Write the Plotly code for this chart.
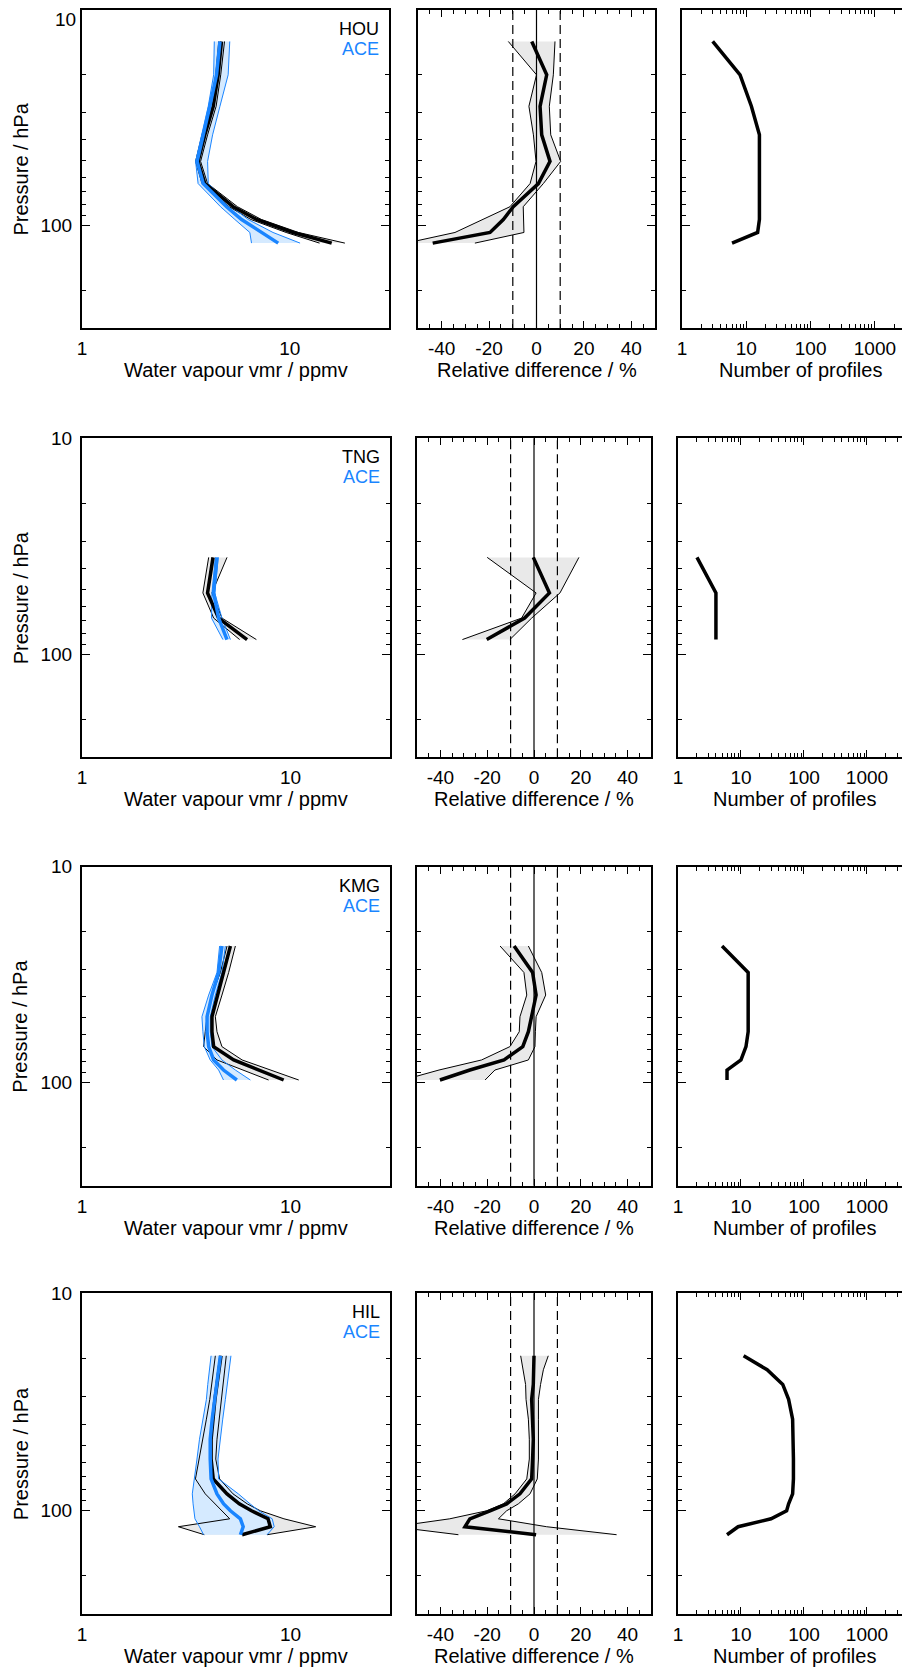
import numpy as np
import plotly.graph_objects as go

STATIONS = ["HOU", "TNG", "KMG", "HIL"]

# ---- HOU -------------------------------------------------------------
HOU_P = [14, 20, 28, 38, 50.5, 64, 82, 94, 108, 121]
HOU_MEAN = [4.69, 4.52, 4.28, 3.90, 3.62, 3.90, 5.34, 6.92, 10.37, 15.9]
HOU_LO = [4.55, 4.40, 4.15, 3.78, 3.52, 3.78, 5.10, 6.50, 9.60, 13.9]
HOU_HI = [4.85, 4.65, 4.42, 4.02, 3.72, 4.02, 5.60, 7.30, 11.0, 18.4]
ACE_HOU_MEAN = [4.61, 4.44, 4.12, 3.83, 3.58, 3.83, 4.96, 5.86, 7.31, 8.79]
ACE_HOU_LO = [4.33, 4.30, 4.05, 3.75, 3.52, 3.62, 4.64, 5.44, 6.42, 6.54]
ACE_HOU_HI = [5.14, 5.05, 4.61, 4.25, 4.02, 4.05, 5.25, 6.30, 8.30, 11.2]
DIFF_HOU_MEAN = [-2.0, 4.3, 1.5, 2.2, 5.7, 0.8, -9.8, -14.0, -19.6, -43.8]
DIFF_HOU_LO = [-11.9, 0.0, -3.2, -1.3, -0.2, -2.7, -11.2, -22.4, -34.4, -55.0]
DIFF_HOU_HI = [7.8, 7.1, 5.4, 6.0, 10.2, 2.9, -5.6, -5.6, -5.3, -26.0]
N_HOU = [3, 8, 12, 16, 16, 16, 16, 16, 15, 6]

# ---- TNG -------------------------------------------------------------
TNG_P = [35.6, 52, 68, 85.5]
TNG_MEAN = [4.25, 4.00, 4.52, 6.19]
TNG_LO = [4.05, 3.80, 4.28, 5.70]
TNG_HI = [4.96, 4.20, 4.69, 6.86]
ACE_TNG_MEAN = [4.44, 4.28, 4.52, 4.96]
ACE_TNG_LO = [4.36, 4.20, 4.18, 4.74]
ACE_TNG_HI = [4.50, 4.33, 4.69, 5.15]
DIFF_TNG_MEAN = [-0.3, 6.6, -4.0, -20.2]
DIFF_TNG_LO = [-20.0, 0.9, -5.3, -30.6]
DIFF_TNG_HI = [19.2, 11.1, -1.0, -10.3]
N_TNG = [2, 4, 4, 4]

# ---- KMG -------------------------------------------------------------
KMG_P = [23.3, 30.9, 39.3, 49.5, 58.1, 68.1, 78.5, 87.4, 97.2]
KMG_MEAN = [5.15, 4.77, 4.44, 4.20, 4.20, 4.28, 5.34, 7.00, 9.27]
KMG_LO = [4.96, 4.61, 4.20, 3.98, 3.90, 3.83, 4.44, 5.95, 7.85]
KMG_HI = [5.44, 5.05, 4.69, 4.36, 4.44, 4.69, 5.86, 8.00, 10.95]
ACE_KMG_MEAN = [4.69, 4.52, 4.20, 3.98, 3.98, 4.05, 4.28, 4.77, 5.53]
ACE_KMG_LO = [4.57, 4.44, 4.05, 3.76, 3.80, 3.86, 4.12, 4.52, 4.77]
ACE_KMG_HI = [4.87, 4.69, 4.36, 4.12, 4.12, 4.20, 4.69, 5.44, 6.42]
DIFF_KMG_MEAN = [-8.5, -0.6, 0.9, -1.0, -2.4, -4.8, -12.8, -27.4, -40.2]
DIFF_KMG_LO = [-14.5, -4.3, -3.1, -6.0, -6.3, -10.3, -22.4, -40.6, -56.0]
DIFF_KMG_HI = [-2.4, 3.3, 5.0, 0.9, 0.6, 0.4, -2.4, -16.7, -20.9]
N_KMG = [5, 13, 13, 13, 13, 12, 10, 6, 6]

# ---- HIL -------------------------------------------------------------
HIL_P = [19.4, 22.5, 26.3, 30.8, 38.0, 47.0, 58.0, 71.6, 83.9, 93.3, 100.4, 109.3, 118.9, 129.4]
HIL_MEAN = [4.64, 4.56, 4.44, 4.34, 4.24, 4.16, 4.16, 4.26, 4.96, 5.68, 6.50, 7.80, 8.00, 5.86]
HIL_LO = [4.36, 4.28, 4.19, 4.10, 3.95, 3.80, 3.65, 3.50, 3.90, 4.36, 4.69, 5.11, 2.90, 3.86]
HIL_HI = [4.92, 4.84, 4.75, 4.64, 4.54, 4.44, 4.38, 4.57, 5.30, 6.20, 7.17, 9.30, 13.2, 7.72]
ACE_HIL_MEAN = [4.61, 4.52, 4.40, 4.31, 4.21, 4.12, 4.12, 4.16, 4.44, 4.78, 5.15, 5.75, 5.93, 5.75]
ACE_HIL_LO = [4.16, 4.08, 4.01, 3.95, 3.80, 3.66, 3.56, 3.46, 3.38, 3.41, 3.43, 3.48, 3.66, 3.83]
ACE_HIL_HI = [5.18, 5.09, 4.98, 4.87, 4.73, 4.61, 4.49, 4.52, 5.62, 6.40, 7.04, 8.17, 8.35, 7.72]
DIFF_HIL_MEAN = [0.0, 0.0, -0.3, -1.0, -0.6, -0.3, -0.6, -1.0, -6.0, -11.7, -18.8, -27.4, -29.5, 0.9]
DIFF_HIL_LO = [-5.7, -4.6, -3.6, -3.4, -2.4, -2.0, -2.0, -3.1, -8.1, -13.1, -20.2, -36.0, -60.0, -32.3]
DIFF_HIL_HI = [6.1, 4.0, 2.8, 1.9, 1.9, 1.9, 1.9, 1.4, -1.7, -6.7, -11.7, -15.2, 5.4, 35.3]
N_HIL = [11, 26, 46, 57, 66, 68, 68, 68, 66, 57, 53, 30, 9, 6]

DATA = {
    "HOU": (HOU_P, HOU_MEAN, HOU_LO, HOU_HI, ACE_HOU_MEAN, ACE_HOU_LO, ACE_HOU_HI,
            DIFF_HOU_MEAN, DIFF_HOU_LO, DIFF_HOU_HI, N_HOU),
    "TNG": (TNG_P, TNG_MEAN, TNG_LO, TNG_HI, ACE_TNG_MEAN, ACE_TNG_LO, ACE_TNG_HI,
            DIFF_TNG_MEAN, DIFF_TNG_LO, DIFF_TNG_HI, N_TNG),
    "KMG": (KMG_P, KMG_MEAN, KMG_LO, KMG_HI, ACE_KMG_MEAN, ACE_KMG_LO, ACE_KMG_HI,
            DIFF_KMG_MEAN, DIFF_KMG_LO, DIFF_KMG_HI, N_KMG),
    "HIL": (HIL_P, HIL_MEAN, HIL_LO, HIL_HI, ACE_HIL_MEAN, ACE_HIL_LO, ACE_HIL_HI,
            DIFF_HIL_MEAN, DIFF_HIL_LO, DIFF_HIL_HI, N_HIL),
}

# ---- layout (pixels of the 910x1670 page) ------------------------------
# the page body keeps its default 8px margin, so the figure is 8px smaller
# and every page position is shifted back by that amount
PAGE_W, PAGE_H = 910, 1670
BODY = 8
W, H = PAGE_W - BODY, PAGE_H - BODY
ROW_PX = [(10, 328), (438.3, 757.3), (866.7, 1185.7), (1293.3, 1614)]
COL_PX = [
    [(82, 389), (418, 655), (682, 910)],
    [(82, 390), (417, 651), (678, 910)],
    [(82, 390), (417, 651), (678, 910)],
    [(82, 390), (417, 651), (678, 910)],
]
N_LOGMAX = [3.546, 3.683, 3.683, 3.683]
N_TITLE_X = [0.521, 0.504, 0.504, 0.504]

BLUE = "#1a85ff"
BLUE_FILL = "#d5eaff"
GREY_FILL = "#e9e9e9"
FONT = "Liberation Sans, Arial, Helvetica, sans-serif"
TICK_FONT = dict(family=FONT, size=19, color="black")

P_MAJOR = [10, 100]
P_MINOR = [20, 30, 40, 50, 60, 70, 80, 90, 200]
N_MINOR = [m * d for d in (1, 10, 100, 1000) for m in range(2, 10)]
D_MINOR = [v for v in range(-45, 50, 5) if v % 20 != 0]


def axis_id(i):
    return "" if i == 1 else str(i)


def band(p, lo, hi, color, xa, ya):
    return go.Scatter(x=list(lo) + list(hi)[::-1], y=list(p) + list(p)[::-1],
                      fill="toself", fillcolor=color, line=dict(width=0),
                      mode="lines", hoverinfo="skip", xaxis=xa, yaxis=ya)


def line(p, x, color, width, xa, ya):
    return go.Scatter(x=x, y=p, mode="lines", line=dict(color=color, width=width),
                      xaxis=xa, yaxis=ya)


fig = go.Figure()
layout = {}
annotations = []
shapes = []

for r, name in enumerate(STATIONS):
    (p, mean, lo, hi, amean, alo, ahi, dmean, dlo, dhi, nprof) = DATA[name]
    top, bot = ROW_PX[r]
    ydom = [1 - (bot - BODY) / H, 1 - (top - BODY) / H]
    ids = [r * 3 + c + 1 for c in range(3)]
    xa = ["x" + axis_id(i) for i in ids]
    ya = ["y" + axis_id(i) for i in ids]

    # left: water vapour profiles
    fig.add_trace(band(p, lo, hi, GREY_FILL, xa[0], ya[0]))
    fig.add_trace(band(p, alo, ahi, BLUE_FILL, xa[0], ya[0]))
    for arr in (lo, hi):
        fig.add_trace(line(p, arr, "black", 1, xa[0], ya[0]))
    for arr in (alo, ahi):
        fig.add_trace(line(p, arr, BLUE, 1, xa[0], ya[0]))
    fig.add_trace(line(p, mean, "black", 3.5, xa[0], ya[0]))
    fig.add_trace(line(p, amean, BLUE, 3.5, xa[0], ya[0]))

    # middle: relative difference
    fig.add_trace(band(p, dlo, dhi, GREY_FILL, xa[1], ya[1]))
    for arr in (dlo, dhi):
        fig.add_trace(line(p, arr, "black", 1, xa[1], ya[1]))
    fig.add_trace(line(p, dmean, "black", 3.5, xa[1], ya[1]))

    # right: number of profiles
    fig.add_trace(line(p, nprof, "black", 3.5, xa[2], ya[2]))

    # the top "10" of the first row would sit past the page edge; it is
    # written as an annotation just inside the figure instead
    p_text = ["", "100"] if r == 0 else ["10", "100"]

    for c in range(3):
        x0, x1 = COL_PX[r][c]
        xkey = "xaxis" + axis_id(ids[c])
        ykey = "yaxis" + axis_id(ids[c])
        yax = dict(
            type="log", range=[np.log10(300), 1], domain=ydom, anchor=xa[c],
            automargin=False, showline=True, linewidth=2, linecolor="black",
            mirror="allticks" if c < 2 else False,
            tickmode="array", tickvals=P_MAJOR, ticktext=p_text,
            ticks="inside", ticklen=8, tickwidth=1, tickcolor="black",
            showticklabels=(c == 0), tickfont=TICK_FONT, ticklabelstandoff=4,
            ticklabeloverflow="allow",
            minor=dict(tickmode="array", tickvals=P_MINOR, ticks="inside",
                       ticklen=4, tickwidth=1, tickcolor="black", showgrid=False),
            showgrid=False, zeroline=False,
        )
        xax = dict(domain=[(x0 - BODY) / W, min(1, (x1 - BODY) / W)], anchor=ya[c],
                   automargin=False, showline=True, linewidth=2, linecolor="black",
                   showgrid=False, zeroline=False, tickfont=TICK_FONT,
                   tickmode="array", ticklabelstandoff=2, ticklabeloverflow="allow")
        if c == 0:
            xax.update(type="log", range=[0, np.log10(30)], tickvals=[1, 10],
                       ticktext=["1", "10"], ticks="", mirror=True)
        elif c == 1:
            xax.update(range=[-50, 50], tickvals=[-40, -20, 0, 20, 40],
                       ticktext=["-40", "-20", "0", "20", "40"], ticks="inside",
                       ticklen=7, tickwidth=1, tickcolor="black", mirror="allticks",
                       minor=dict(tickmode="array", tickvals=D_MINOR, ticks="inside",
                                  ticklen=4, tickwidth=1, tickcolor="black"))
        else:
            xax.update(type="log", range=[0, N_LOGMAX[r]], tickvals=[1, 10, 100, 1000],
                       ticktext=["1", "10", "100", "1000"], ticks="inside",
                       ticklen=7, tickwidth=1, tickcolor="black", mirror="allticks",
                       minor=dict(tickmode="array", tickvals=N_MINOR, ticks="inside",
                                  ticklen=4, tickwidth=1, tickcolor="black"))
        layout[xkey] = xax
        layout[ykey] = yax

    if r == 0:
        annotations.append(dict(text="10", xref="%s domain" % xa[0],
                                yref="%s domain" % ya[0], x=0, y=1,
                                xanchor="right", yanchor="top", xshift=-4, yshift=3,
                                showarrow=False, font=TICK_FONT))

    # reference lines in the difference panel
    for xv, dash in ((-10, "9px,5px"), (0, "solid"), (10, "9px,5px")):
        shapes.append(dict(type="line", xref=xa[1], yref="%s domain" % ya[1],
                           x0=xv, x1=xv, y0=0, y1=1, layer="above",
                           line=dict(color="black", width=1.2, dash=dash)))

    # axis titles
    titles = ["Water vapour vmr / ppmv", "Relative difference / %", "Number of profiles"]
    tx = [0.5, 0.5, N_TITLE_X[r]]
    for c in range(3):
        annotations.append(dict(text=titles[c], xref="%s domain" % xa[c],
                                yref="%s domain" % ya[c], x=tx[c], y=0,
                                xanchor="center", yanchor="middle", yshift=-42,
                                showarrow=False,
                                font=dict(family=FONT, size=20, color="black")))
    annotations.append(dict(text="Pressure / hPa", xref="%s domain" % xa[0],
                            yref="%s domain" % ya[0], x=0, y=0.5, xshift=-61.5,
                            textangle=-90, xanchor="center", yanchor="middle",
                            showarrow=False,
                            font=dict(family=FONT, size=20, color="black")))

    # station / ACE labels
    for label, color, dy in ((name, "black", -19), ("ACE", BLUE, -39)):
        annotations.append(dict(text=label, xref="%s domain" % xa[0],
                                yref="%s domain" % ya[0], x=1, y=1,
                                xanchor="right", yanchor="middle", xshift=-8, yshift=dy,
                                showarrow=False,
                                font=dict(family=FONT, size=18, color=color)))

fig.update_layout(
    width=W, height=H, margin=dict(l=0, r=0, t=0, b=0, autoexpand=False),
    paper_bgcolor="white", plot_bgcolor="white", showlegend=False,
    annotations=annotations, shapes=shapes, **layout,
)

fig.write_html("out.html")
